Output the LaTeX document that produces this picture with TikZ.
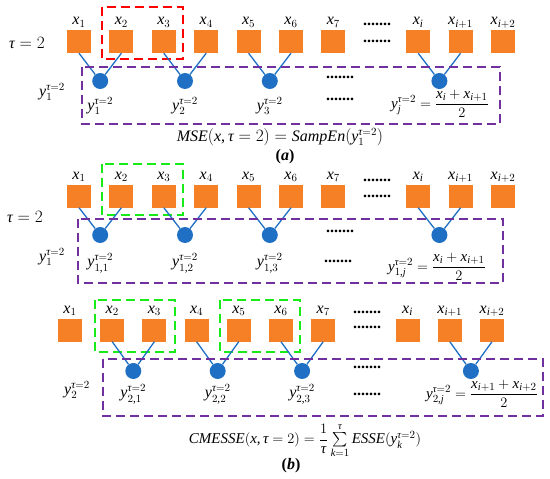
\documentclass[tikz,border=0pt]{standalone}
\usepackage{amsmath}
\usepackage{fontspec}
\setmainfont{Liberation Serif}
\usetikzlibrary{positioning, calc}

% Times-like letters and digits in formulas
\DeclareSymbolFont{tmsit}{TU}{\rmdefault}{m}{it}
\DeclareSymbolFont{tmsup}{TU}{\rmdefault}{m}{n}
\count255=`a
\loop \Umathcode\count255="0 \symtmsit \count255
  \ifnum\count255<`z \advance\count255 by 1 \repeat
\count255=`A
\loop \Umathcode\count255="0 \symtmsit \count255
  \ifnum\count255<`Z \advance\count255 by 1 \repeat
\count255=`0
\loop \Umathcode\count255="0 \symtmsup \count255
  \ifnum\count255<`9 \advance\count255 by 1 \repeat
\Umathcode`(="4 \symtmsup `(
\Umathcode`)="5 \symtmsup `)
\Umathcode`+="2 \symtmsup `+
\Umathcode`=="3 \symtmsup `=
\Umathcode`,="6 \symtmsup `,
\AtBeginDocument{\Umathchardef\tau="0 \symtmsit "03C4 }

\definecolor{sqorange}{RGB}{246,128,38}
\definecolor{beadblue}{RGB}{31,112,196}
\definecolor{boxpurple}{RGB}{112,48,160}
\definecolor{boxred}{RGB}{255,0,0}
\definecolor{boxgreen}{RGB}{25,235,25}

\begin{document}
\begin{tikzpicture}[x=1pt, y=-1pt,
    sq/.style={fill=sqorange, minimum width=24pt, minimum height=23pt, inner sep=0pt},
    bead/.style={circle, fill=beadblue, minimum size=16pt, inner sep=0pt},
    lbl/.style={font=\fontsize{16}{19}\selectfont, inner sep=0pt,
                text height=9pt, text depth=3pt},
    eq/.style={font=\fontsize{16}{19}\selectfont, inner sep=0pt},
    frm/.style={font=\fontsize{15}{18}\selectfont, inner sep=0pt},
    ell/.style={font=\bfseries\fontsize{16}{16}\selectfont, inner sep=0pt},
    link/.style={beadblue, line width=1.3pt},
    grp/.style={line width=1.6pt, dash pattern=on 9pt off 5pt},
]
\useasboundingbox (0,0) rectangle (550,479);

% --- (a) MSE coarse-graining ---
\foreach \n/\s [count=\c] in {0/1,1/2,2/3,3/4,4/5,5/6,6/7,8/i,9/i+1,10/i+2} {
  \node[sq] (a\c) at (79+42.4*\n, 41.5) {};
  \node[lbl, above=2pt of a\c] (xa\c) {$x_{\s}$};
}
\node[ell] (da1) at (377,24) {.......};
\node[ell] (da2) at (377,41) {.......};
\draw[grp, boxred] (102,7) rectangle (183,59);

\foreach \p/\q [count=\c] in {1/2,3/4,5/6,8/9} {
  \node[bead] (ca\c) at ($(a\p)!0.5!(a\q)+(0,39.5)$) {};
  \draw[link] (a\p.south) -- (ca\c);
  \draw[link] (a\q.south) -- (ca\c);
}
\foreach \c in {1,2,3}
  \node[eq, below=8pt of ca\c] (ya\c) {$y_{\c}^{\tau=2}$};
\node[frm] (ya4) at (440,104) {$y_j^{\tau=2}=\dfrac{x_i+x_{i+1}}{2}$};
\node[ell] (da3) at (340,77) {.......};
\node[ell] (da4) at (340,99) {.......};
\draw[grp, boxpurple] (82,67) rectangle (500,124);

\node[eq] (taua) at (27,43) {$\tau=2$};
\node[eq] (ylefta) at (52,92) {$y_1^{\tau=2}$};
\node[eq] (msea) at (280,137) {$MSE(x,\tau=2)=SampEn(y_1^{\tau=2})$};
\node[eq] (capa) at (285,157) {\textbf{(\textit{a})}};

% --- (b) first coarse-grained series ---
\foreach \n/\s [count=\c] in {0/1,1/2,2/3,3/4,4/5,5/6,6/7,8/i,9/i+1,10/i+2} {
  \node[sq] (b\c) at (79+42.4*\n, 196) {};
  \node[lbl, above=2pt of b\c] (xb\c) {$x_{\s}$};
}
\node[ell] (db1) at (377,180) {.......};
\node[ell] (db2) at (377,196) {.......};
\draw[grp, boxgreen] (102,164) rectangle (183,215);

\foreach \p/\q [count=\c] in {1/2,3/4,5/6,8/9} {
  \node[bead] (cb\c) at ($(b\p)!0.5!(b\q)+(0,39)$) {};
  \draw[link] (b\p.south) -- (cb\c);
  \draw[link] (b\q.south) -- (cb\c);
}
\foreach \c in {1,2,3}
  \node[eq, below=10pt of cb\c] (yb\c) {$y_{1,\c}^{\tau=2}$};
\node[frm] (yb4) at (437,267) {$y_{1,j}^{\tau=2}=\dfrac{x_i+x_{i+1}}{2}$};
\node[ell] (db3) at (340,231) {.......};
\node[ell] (db4) at (338,261) {.......};
\draw[grp, boxpurple] (78,219) rectangle (503,283);

\node[eq] (taub) at (25,217) {$\tau=2$};
\node[eq] (yleftb) at (52,257) {$y_1^{\tau=2}$};

% --- (b) second coarse-grained series ---
\foreach \n/\s [count=\c] in {0/1,1/2,2/3,3/4,4/5,5/6,6/7,8/i,9/i+1,10/i+2} {
  \node[sq] (c\c) at (70+42.2*\n, 330) {};
  \node[lbl, above=2pt of c\c] (xc\c) {$x_{\s}$};
}
\node[ell] (dc1) at (367,312) {.......};
\node[ell] (dc2) at (367,327) {.......};
\draw[grp, boxgreen] (95,300) rectangle (175,352);
\draw[grp, boxgreen] (220,300) rectangle (300,352);

\foreach \p/\q [count=\c] in {2/3,4/5,6/7,9/10} {
  \node[bead] (cc\c) at ($(c\p)!0.5!(c\q)+(0,41)$) {};
  \draw[link] (c\p.south) -- (cc\c);
  \draw[link] (c\q.south) -- (cc\c);
}
\foreach \c in {1,2,3}
  \node[eq, below=5pt of cc\c] (yc\c) {$y_{2,\c}^{\tau=2}$};
\node[frm] (yc4) at (482,394) {$y_{2,j}^{\tau=2}=\dfrac{x_{i+1}+x_{i+2}}{2}$};
\node[ell] (dc3) at (367,367) {.......};
\node[ell] (dc4) at (367,394) {.......};
\draw[grp, boxpurple] (103,359) rectangle (543,416);

\node[eq] (yleftc) at (77,390) {$y_2^{\tau=2}$};
\node[frm] (cmesse) at (305,441)
    {$CMESSE(x,\tau=2)=\dfrac{1}{\tau}\sum\limits_{k=1}^{\tau}ESSE(y_k^{\tau=2})$};
\node[eq] (capb) at (291,466) {\textbf{(\textit{b})}};
\end{tikzpicture}
\end{document}
